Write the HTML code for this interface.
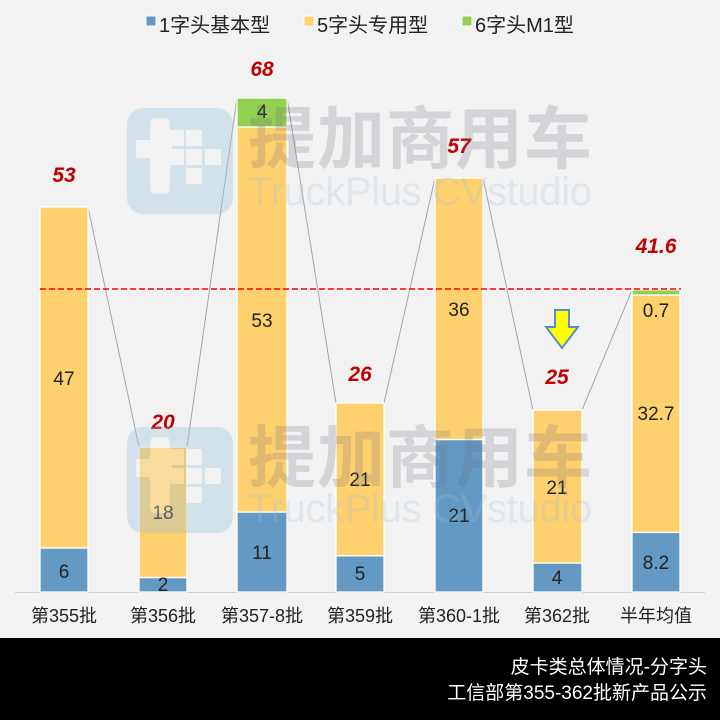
<!DOCTYPE html>
<html><head><meta charset="utf-8"><style>
html,body{margin:0;padding:0;background:#f2f2f2;}
svg{display:block;font-family:"Liberation Sans","Noto Sans CJK SC",sans-serif;}
</style></head><body>
<svg width="720" height="720" viewBox="0 0 720 720" xmlns="http://www.w3.org/2000/svg">
<rect width="720" height="720" fill="#f2f2f2"/>
<g font-size="20" fill="#222">
<rect x="146" y="16" width="10" height="10" fill="#6399c3" stroke="#fff" stroke-width="1"/>
<text x="159" y="32">1字头基本型</text>
<rect x="304" y="16" width="10" height="10" fill="#ffd06e" stroke="#fff" stroke-width="1"/>
<text x="317" y="32">5字头专用型</text>
<rect x="462" y="16" width="10" height="10" fill="#92d050" stroke="#fff" stroke-width="1"/>
<text x="475" y="32">6字头M1型</text>
</g>
<line x1="15" y1="592.5" x2="705" y2="592.5" stroke="#d0d0d0" stroke-width="1"/>
<g stroke="#a6a6a6" stroke-width="1" fill="none">
<line x1="88" y1="207" x2="139" y2="447"/>
<line x1="187" y1="447" x2="237" y2="98"/>
<line x1="287" y1="98" x2="336" y2="403"/>
<line x1="384" y1="403" x2="435" y2="178"/>
<line x1="483" y1="178" x2="533" y2="410"/>
<line x1="582" y1="410" x2="632" y2="290"/>
</g>
<g stroke="#fff" stroke-width="1.3">
<rect x="40" y="548" width="48" height="44" fill="#6399c3"/>
<rect x="40" y="207" width="48" height="341" fill="#ffd06e"/>
<rect x="139" y="577.5" width="48" height="14.5" fill="#6399c3"/>
<rect x="139" y="447" width="48" height="130.5" fill="#ffd06e"/>
<rect x="237" y="512" width="50" height="80" fill="#6399c3"/>
<rect x="237" y="127" width="50" height="385" fill="#ffd06e"/>
<rect x="237" y="98" width="50" height="29" fill="#92d050"/>
<rect x="336" y="555.7" width="48" height="36.3" fill="#6399c3"/>
<rect x="336" y="403" width="48" height="152.7" fill="#ffd06e"/>
<rect x="435" y="439.5" width="48" height="152.5" fill="#6399c3"/>
<rect x="435" y="178" width="48" height="261.5" fill="#ffd06e"/>
<rect x="533" y="563" width="49" height="29" fill="#6399c3"/>
<rect x="533" y="410" width="49" height="153" fill="#ffd06e"/>
<rect x="632" y="532.4" width="48" height="59.6" fill="#6399c3"/>
<rect x="632" y="295" width="48" height="237.4" fill="#ffd06e"/>
<rect x="632" y="289.8" width="48" height="5.2" fill="#92d050"/>
</g>
<line x1="40" y1="289" x2="681" y2="289" stroke="#ff0000" stroke-width="1.6" stroke-dasharray="6,3"/>
<g font-size="19" fill="#222" text-anchor="middle">
<text x="64" y="385">47</text><text x="64" y="578">6</text>
<text x="163" y="519">18</text><text x="163" y="591">2</text>
<text x="262" y="118">4</text><text x="262" y="327">53</text><text x="262" y="559">11</text>
<text x="360" y="486">21</text><text x="360" y="580">5</text>
<text x="459" y="316">36</text><text x="459" y="522">21</text>
<text x="557" y="494">21</text><text x="557" y="584">4</text>
<text x="656" y="317">0.7</text><text x="656" y="420">32.7</text><text x="656" y="569">8.2</text>
</g>
<g font-size="21" font-style="italic" font-weight="bold" fill="#c00000" text-anchor="middle">
<text x="64" y="182">53</text>
<text x="163" y="429">20</text>
<text x="262" y="76">68</text>
<text x="360" y="381">26</text>
<text x="459" y="153">57</text>
<text x="557" y="384">25</text>
<text x="656" y="253">41.6</text>
</g>
<polygon points="555,310 569,310 569,327 578,327 562,348 546,327 555,327" fill="#ffff00" stroke="#5b8dc8" stroke-width="2"/>
<g>
<g opacity="0.35">
<rect x="127" y="108" width="106" height="106" rx="16" fill="#9cc4dc"/>
<rect x="150" y="118" width="20" height="76" rx="5" fill="#f2f2f2"/>
<rect x="136" y="140" width="36" height="18" fill="#f2f2f2"/>
<rect x="168" y="130" width="16" height="16" fill="#f2f2f2"/><rect x="186" y="130" width="16" height="16" fill="#f2f2f2"/>
<rect x="168" y="149" width="16" height="16" fill="#f2f2f2"/><rect x="186" y="149" width="16" height="16" fill="#f2f2f2"/><rect x="205" y="149" width="16" height="16" fill="#f2f2f2"/>
<rect x="186" y="168" width="16" height="16" fill="#f2f2f2"/>
</g>
<text x="248" y="205" font-size="40" fill="#9cc4dc" opacity="0.25" textLength="344">TruckPlus CVstudio</text>
<text x="248" y="163" font-size="68" font-weight="bold" fill="#6b6b80" opacity="0.22" textLength="344">提加商用车</text>
<g opacity="0.35">
<rect x="127" y="427" width="106" height="106" rx="16" fill="#9cc4dc"/>
<rect x="150" y="437" width="20" height="76" rx="5" fill="#f2f2f2"/>
<rect x="136" y="459" width="36" height="18" fill="#f2f2f2"/>
<rect x="168" y="449" width="16" height="16" fill="#f2f2f2"/><rect x="186" y="449" width="16" height="16" fill="#f2f2f2"/>
<rect x="168" y="468" width="16" height="16" fill="#f2f2f2"/><rect x="186" y="468" width="16" height="16" fill="#f2f2f2"/><rect x="205" y="468" width="16" height="16" fill="#f2f2f2"/>
<rect x="186" y="487" width="16" height="16" fill="#f2f2f2"/>
</g>
<text x="248" y="522" font-size="40" fill="#9cc4dc" opacity="0.25" textLength="344">TruckPlus CVstudio</text>
<text x="248" y="482" font-size="68" font-weight="bold" fill="#6b6b80" opacity="0.22" textLength="344">提加商用车</text>
</g>
<g font-size="18" fill="#222" text-anchor="middle">
<text x="64" y="622">第355批</text>
<text x="163" y="622">第356批</text>
<text x="262" y="622">第357-8批</text>
<text x="360" y="622">第359批</text>
<text x="459" y="622">第360-1批</text>
<text x="557" y="622">第362批</text>
<text x="656" y="622">半年均值</text>
</g>
<rect x="0" y="638" width="720" height="82" fill="#000"/>
<g font-size="19" fill="#fff" text-anchor="end">
<text x="707" y="673">皮卡类总体情况-分字头</text>
<text x="707" y="699">工信部第355-362批新产品公示</text>
</g>
</svg>
</body></html>
